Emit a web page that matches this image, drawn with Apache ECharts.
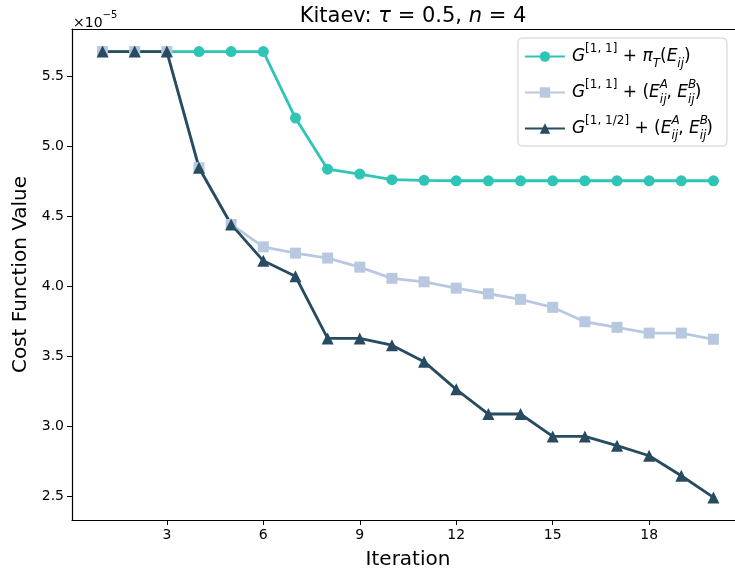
<!DOCTYPE html>
<html>
<head>
<meta charset="utf-8">
<script src="https://cdn.jsdelivr.net/npm/echarts@6/dist/echarts.min.js"></script>
<style>
  html, body { margin: 0; padding: 0; background: #fff; }
  #chart { width: 735px; height: 576px; }
</style>
</head>
<body>
<div id="chart"></div>
<script>
// values in units of 1e-5
var iterations = [1, 2, 3, 4, 5, 6, 7, 8, 9, 10, 11, 12, 13, 14, 15, 16, 17, 18, 19, 20];
var costPiT = [5.675, 5.675, 5.675, 5.675, 5.675, 5.675, 5.20, 4.835, 4.80, 4.76, 4.755, 4.752, 4.752, 4.752, 4.752, 4.752, 4.752, 4.752, 4.752, 4.752];
var costAB = [5.675, 5.675, 5.675, 4.845, 4.44, 4.28, 4.235, 4.20, 4.135, 4.055, 4.03, 3.985, 3.945, 3.905, 3.848, 3.745, 3.705, 3.664, 3.664, 3.62];
var costHalfAB = [5.675, 5.675, 5.675, 4.845, 4.44, 4.18, 4.07, 3.626, 3.626, 3.578, 3.46, 3.262, 3.086, 3.086, 2.926, 2.926, 2.86, 2.788, 2.645, 2.49];
var xTicks = [3, 6, 9, 12, 15, 18];
var yTicks = [2.5, 3.0, 3.5, 4.0, 4.5, 5.0, 5.5];

var names = ['piT', 'ab', 'halfab'];
var colors = ['#2ec4b6', '#b9c8e1', '#274b60'];

var legendText = {
    piT: '{i|G}{sup|[1, 1]}{r| + }{i|π}{sub|T}{r|(}{i|E}{sub|ij}{r|)}',
    ab: '{i|G}{sup|[1, 1]}{r| + (}{i|E}{supz|A}{sub|ij}{r|, }{i|E}{supz|B}{sub|ij}{r|)}',
    halfab: '{i|G}{sup|[1, 1/2]}{r| + (}{i|E}{supz|A}{sub|ij}{r|, }{i|E}{supz|B}{sub|ij}{r|)}'
};

function pairs(ys) {
    return iterations.map(function (x, i) { return [x, ys[i]]; });
}

var font = 'DejaVu Sans';
var chart = echarts.init(document.getElementById('chart'));

chart.setOption({
    animation: false,
    backgroundColor: '#fff',
    textStyle: { fontFamily: font },
    title: {
        text: '{r|Kitaev: }{i|τ}{r| = 0.5, }{i|n}{r| = 4}',
        left: 408,
        top: 1,
        textAlign: 'center',
        textStyle: {
            fontWeight: 'normal',
            rich: {
                r: { fontFamily: font, fontSize: 21, fontWeight: 'normal', color: '#000' },
                i: { fontFamily: font, fontSize: 21, fontWeight: 'normal', fontStyle: 'italic', color: '#000' }
            }
        }
    },
    graphic: [{
        type: 'text',
        left: 73,
        top: 10,
        style: {
            text: '{r|×10}{sup|−5}',
            rich: {
                r: { fontFamily: font, fontSize: 14, color: '#000', lineHeight: 20, verticalAlign: 'bottom' },
                sup: { fontFamily: font, fontSize: 10, color: '#000', lineHeight: 10, verticalAlign: 'top' }
            }
        }
    }],
    grid: {
        left: 72,
        top: 29,
        right: 0,
        bottom: 56,
        show: false
    },
    legend: {
        orient: 'vertical',
        right: 8,
        top: 38,
        data: names,
        itemWidth: 40,
        itemHeight: 13,
        itemGap: 9,
        padding: [5, 14, 4, 6],
        borderColor: '#d0d0d0',
        borderWidth: 1,
        borderRadius: 4,
        backgroundColor: 'rgba(255,255,255,0.8)',
        formatter: function (name) { return legendText[name]; },
        textStyle: {
            padding: [0, 0, 0, 2],
            rich: {
                r: { fontFamily: font, fontSize: 17, color: '#000', lineHeight: 27 },
                i: { fontFamily: font, fontSize: 17, fontStyle: 'italic', color: '#000', lineHeight: 27 },
                sup: { fontFamily: font, fontSize: 12, color: '#000', lineHeight: 14, verticalAlign: 'top' },
                supz: { fontFamily: font, fontSize: 12, fontStyle: 'italic', color: '#000', lineHeight: 14, verticalAlign: 'top', width: 0 },
                sub: { fontFamily: font, fontSize: 12, fontStyle: 'italic', color: '#000', lineHeight: 12, verticalAlign: 'bottom' }
            }
        }
    },
    xAxis: [{
        type: 'value',
        min: 0.05,
        max: 20.67,
        name: 'Iteration',
        nameLocation: 'start',
        nameGap: -336,
        nameTextStyle: { fontFamily: font, fontSize: 20, color: '#000', align: 'center', verticalAlign: 'top', padding: [30, 0, 0, 0] },
        axisLine: { lineStyle: { color: '#000', width: 1.2 } },
        axisTick: { customValues: xTicks, length: 5, lineStyle: { color: '#000' } },
        axisLabel: { customValues: xTicks, fontFamily: font, fontSize: 14, color: '#000', margin: 8 },
        splitLine: { show: false }
    }, {
        type: 'value',
        position: 'top',
        min: 0.05,
        max: 20.67,
        axisLine: { show: true, lineStyle: { color: '#000', width: 1.2 } },
        axisTick: { show: false },
        axisLabel: { show: false },
        splitLine: { show: false }
    }],
    yAxis: {
        type: 'value',
        min: 2.329,
        max: 5.836,
        name: 'Cost Function Value',
        nameLocation: 'middle',
        nameGap: 40,
        nameTextStyle: { fontFamily: font, fontSize: 20, color: '#000' },
        axisLine: { show: true, lineStyle: { color: '#000', width: 1.2 } },
        axisTick: { show: true, customValues: yTicks, length: 5, lineStyle: { color: '#000' } },
        axisLabel: {
            customValues: yTicks, fontFamily: font, fontSize: 14, color: '#000', margin: 8,
            formatter: function (v) { return v.toFixed(1); }
        },
        splitLine: { show: false }
    },
    series: [
        {
            name: 'piT', type: 'line', data: pairs(costPiT),
            symbol: 'circle', symbolSize: 11,
            lineStyle: { color: colors[0], width: 2.8 },
            itemStyle: { color: colors[0] }
        },
        {
            name: 'ab', type: 'line', data: pairs(costAB),
            symbol: 'rect', symbolSize: 11,
            lineStyle: { color: colors[1], width: 2.8 },
            itemStyle: { color: colors[1] }
        },
        {
            name: 'halfab', type: 'line', data: pairs(costHalfAB),
            symbol: 'triangle', symbolSize: 12,
            lineStyle: { color: colors[2], width: 2.8 },
            itemStyle: { color: colors[2] }
        }
    ]
});
</script>
</body>
</html>
